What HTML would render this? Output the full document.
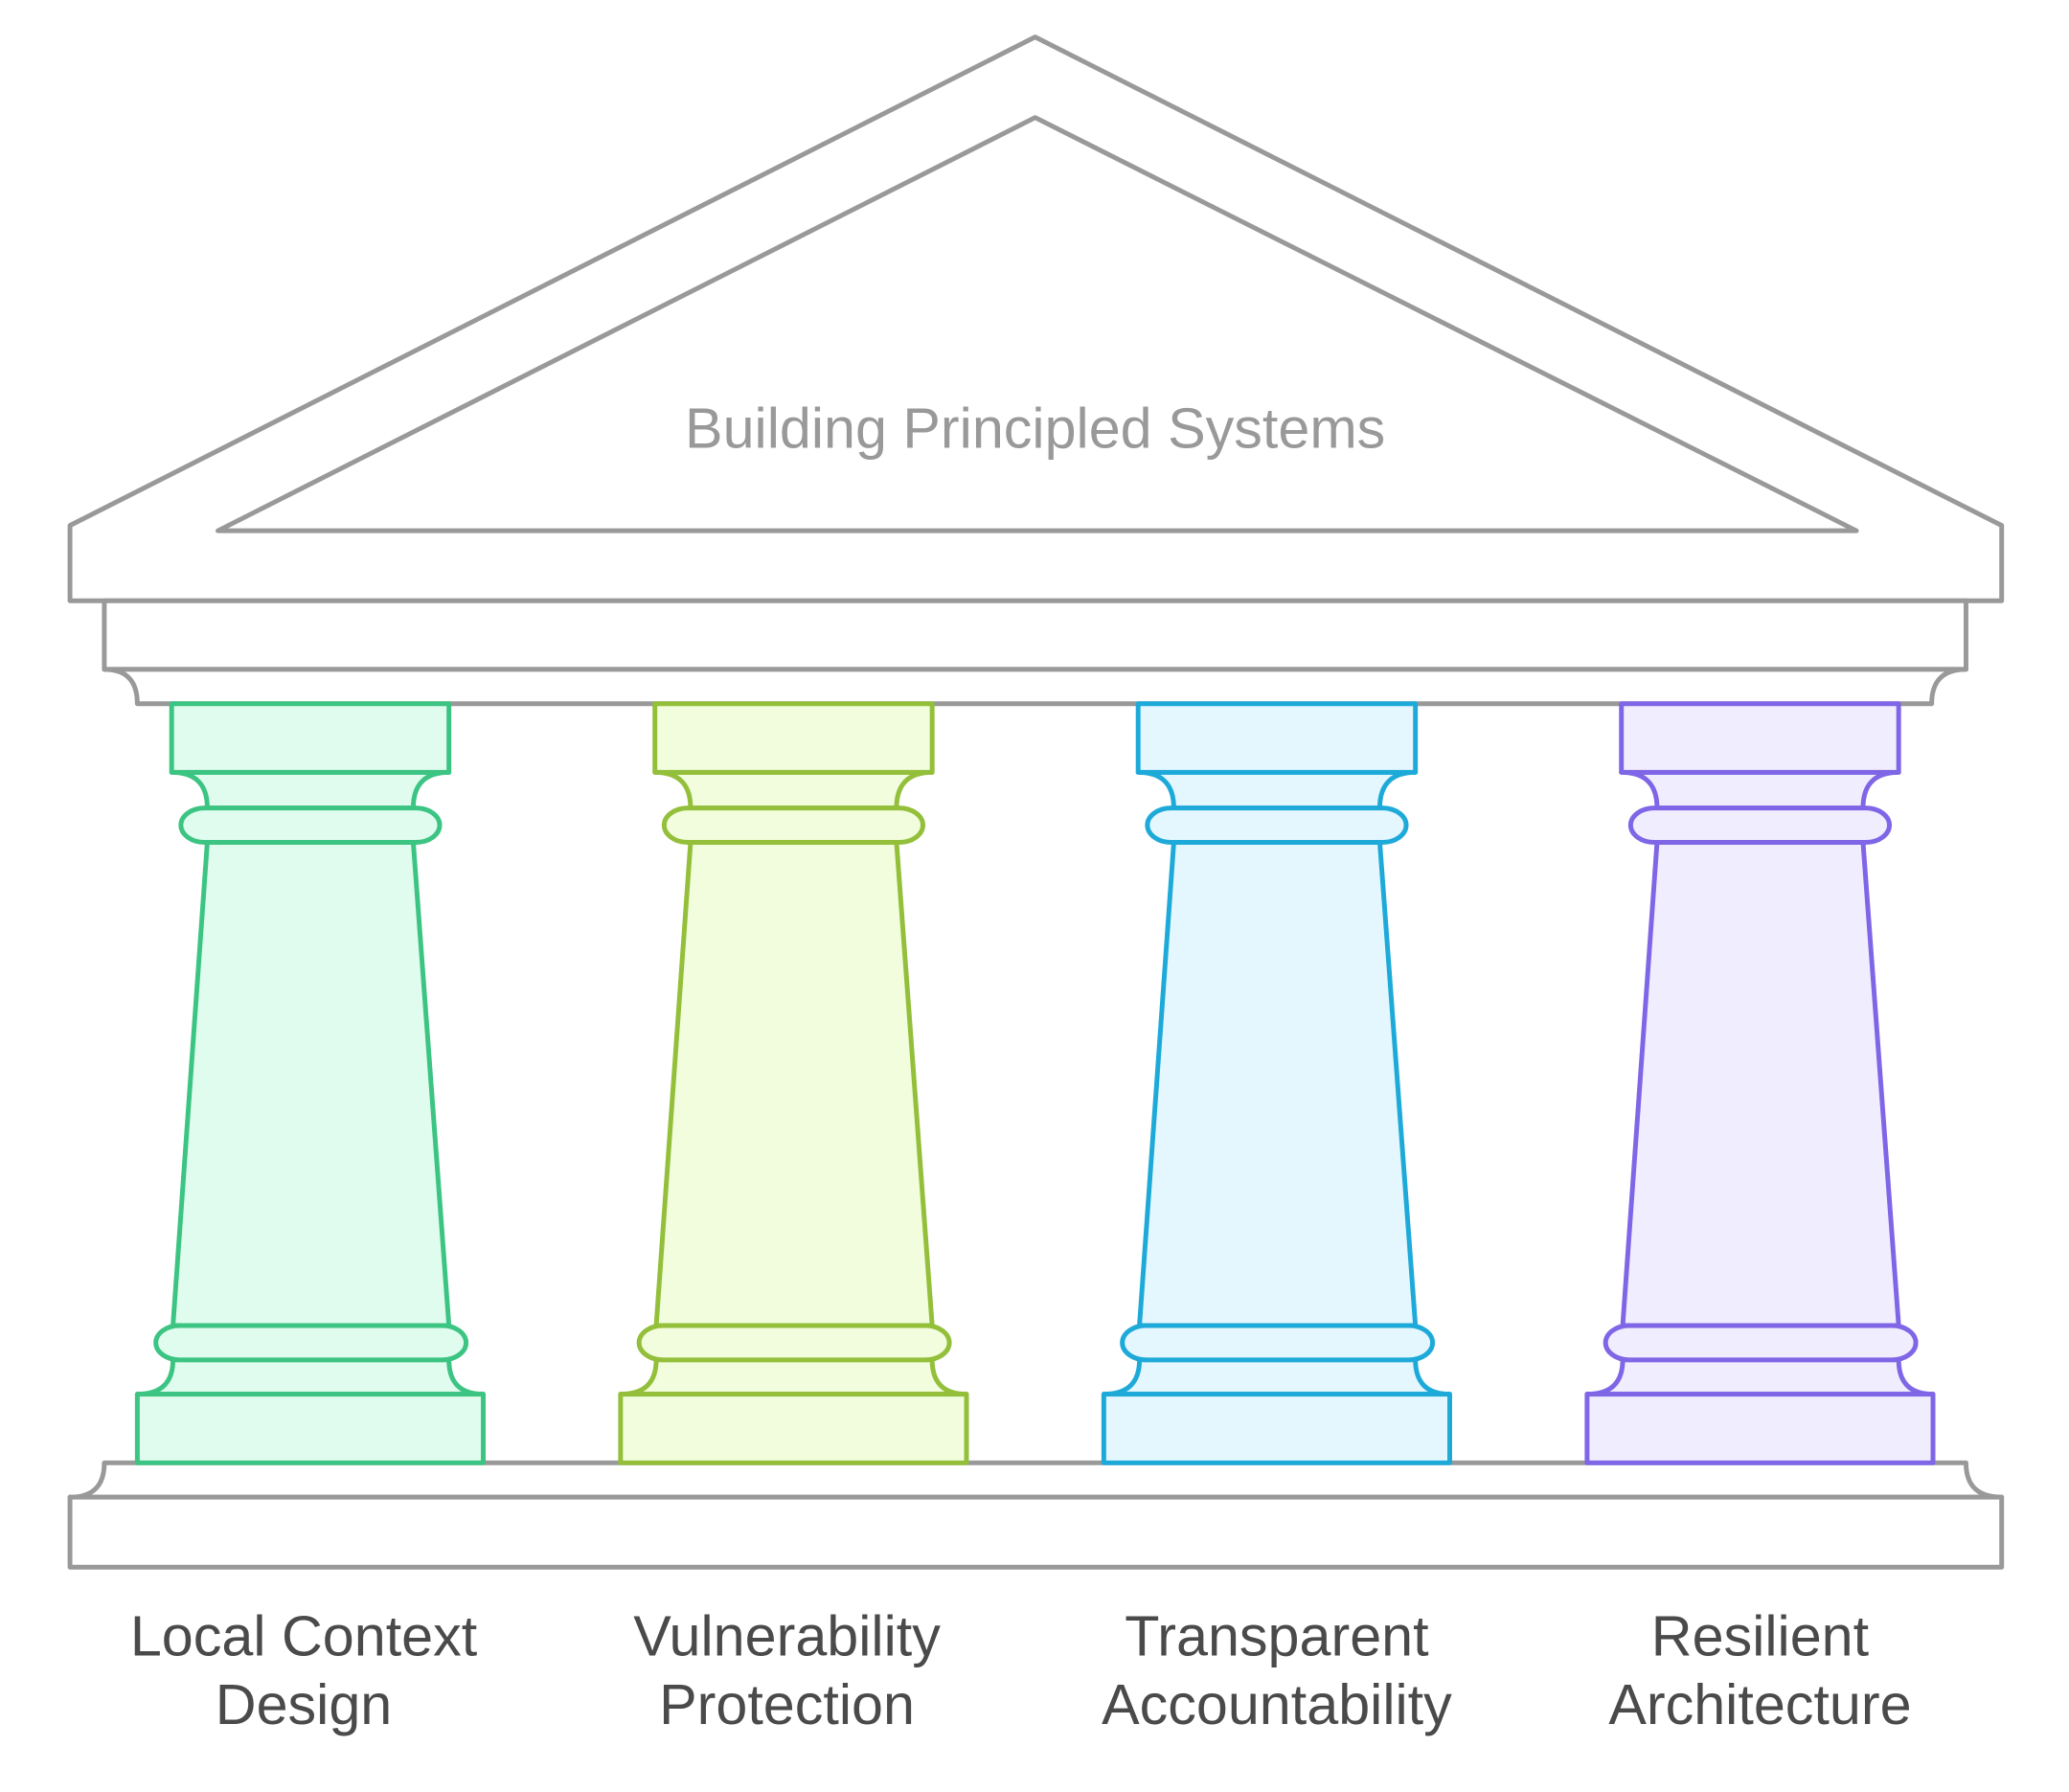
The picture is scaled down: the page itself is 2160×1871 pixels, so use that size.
<!DOCTYPE html>
<html><head><meta charset="utf-8"><style>
html,body{margin:0;padding:0;background:#fff;}
svg{display:block;}
text{font-family:"Liberation Sans",sans-serif;}
</style></head><body>
<svg width="2160" height="1871" viewBox="0 0 1567 1357.3" xmlns="http://www.w3.org/2000/svg">
<defs>
<g id="col" stroke-width="3.6" stroke-linejoin="round">
  <path d="M-105 585 Q-78 585 -78 612 L78 612 Q78 585 105 585 Z"/>
  <path d="M-78 638 L78 638 L105 1004 L-104 1004 Z"/>
  <path d="M-104 1030 Q-104 1056 -131 1056 L131 1056 Q105 1056 105 1030 Z"/>
  <rect x="-105" y="533" width="210" height="52"/>
  <rect x="-98" y="612" width="196" height="26" rx="18" ry="13"/>
  <rect x="-117" y="1004" width="235" height="26" rx="18" ry="13"/>
  <rect x="-131" y="1056" width="262" height="52"/>
</g>
</defs>
<g fill="#fff" stroke="#999" stroke-width="3.6" stroke-linejoin="round">
  <path d="M53 398 L784 28 L1516 398 L1516 455 L53 455 Z"/>
  <path d="M165 402 L784 89 L1406 402 Z"/>
  <rect x="79" y="455" width="1410" height="52"/>
  <path d="M79 507 Q104 507 104 533 L1463 533 Q1463 507 1489 507 Z"/>
  <path d="M53 1134 Q79 1134 79 1108 L1489 1108 Q1489 1134 1516 1134 Z"/>
  <rect x="53" y="1134" width="1463" height="53"/>
</g>
<use href="#col" x="235" fill="#e0fcee" stroke="#3cc483"/>
<use href="#col" x="601" fill="#f1fddc" stroke="#93bf3a"/>
<use href="#col" x="967" fill="#e5f7fe" stroke="#1eaad9"/>
<use href="#col" x="1333" fill="#f0eefe" stroke="#7f66e6"/>
<text x="784" y="339" font-size="43" fill="#999" text-anchor="middle">Building Principled Systems</text>
<g font-size="43" fill="#4a4a4a" text-anchor="middle">
  <text x="230" y="1254">Local Context</text><text x="230" y="1306">Design</text>
  <text x="596" y="1254">Vulnerability</text><text x="596" y="1306">Protection</text>
  <text x="967" y="1254">Transparent</text><text x="967" y="1306">Accountability</text>
  <text x="1333" y="1254">Resilient</text><text x="1333" y="1306">Architecture</text>
</g>
</svg>
</body></html>
